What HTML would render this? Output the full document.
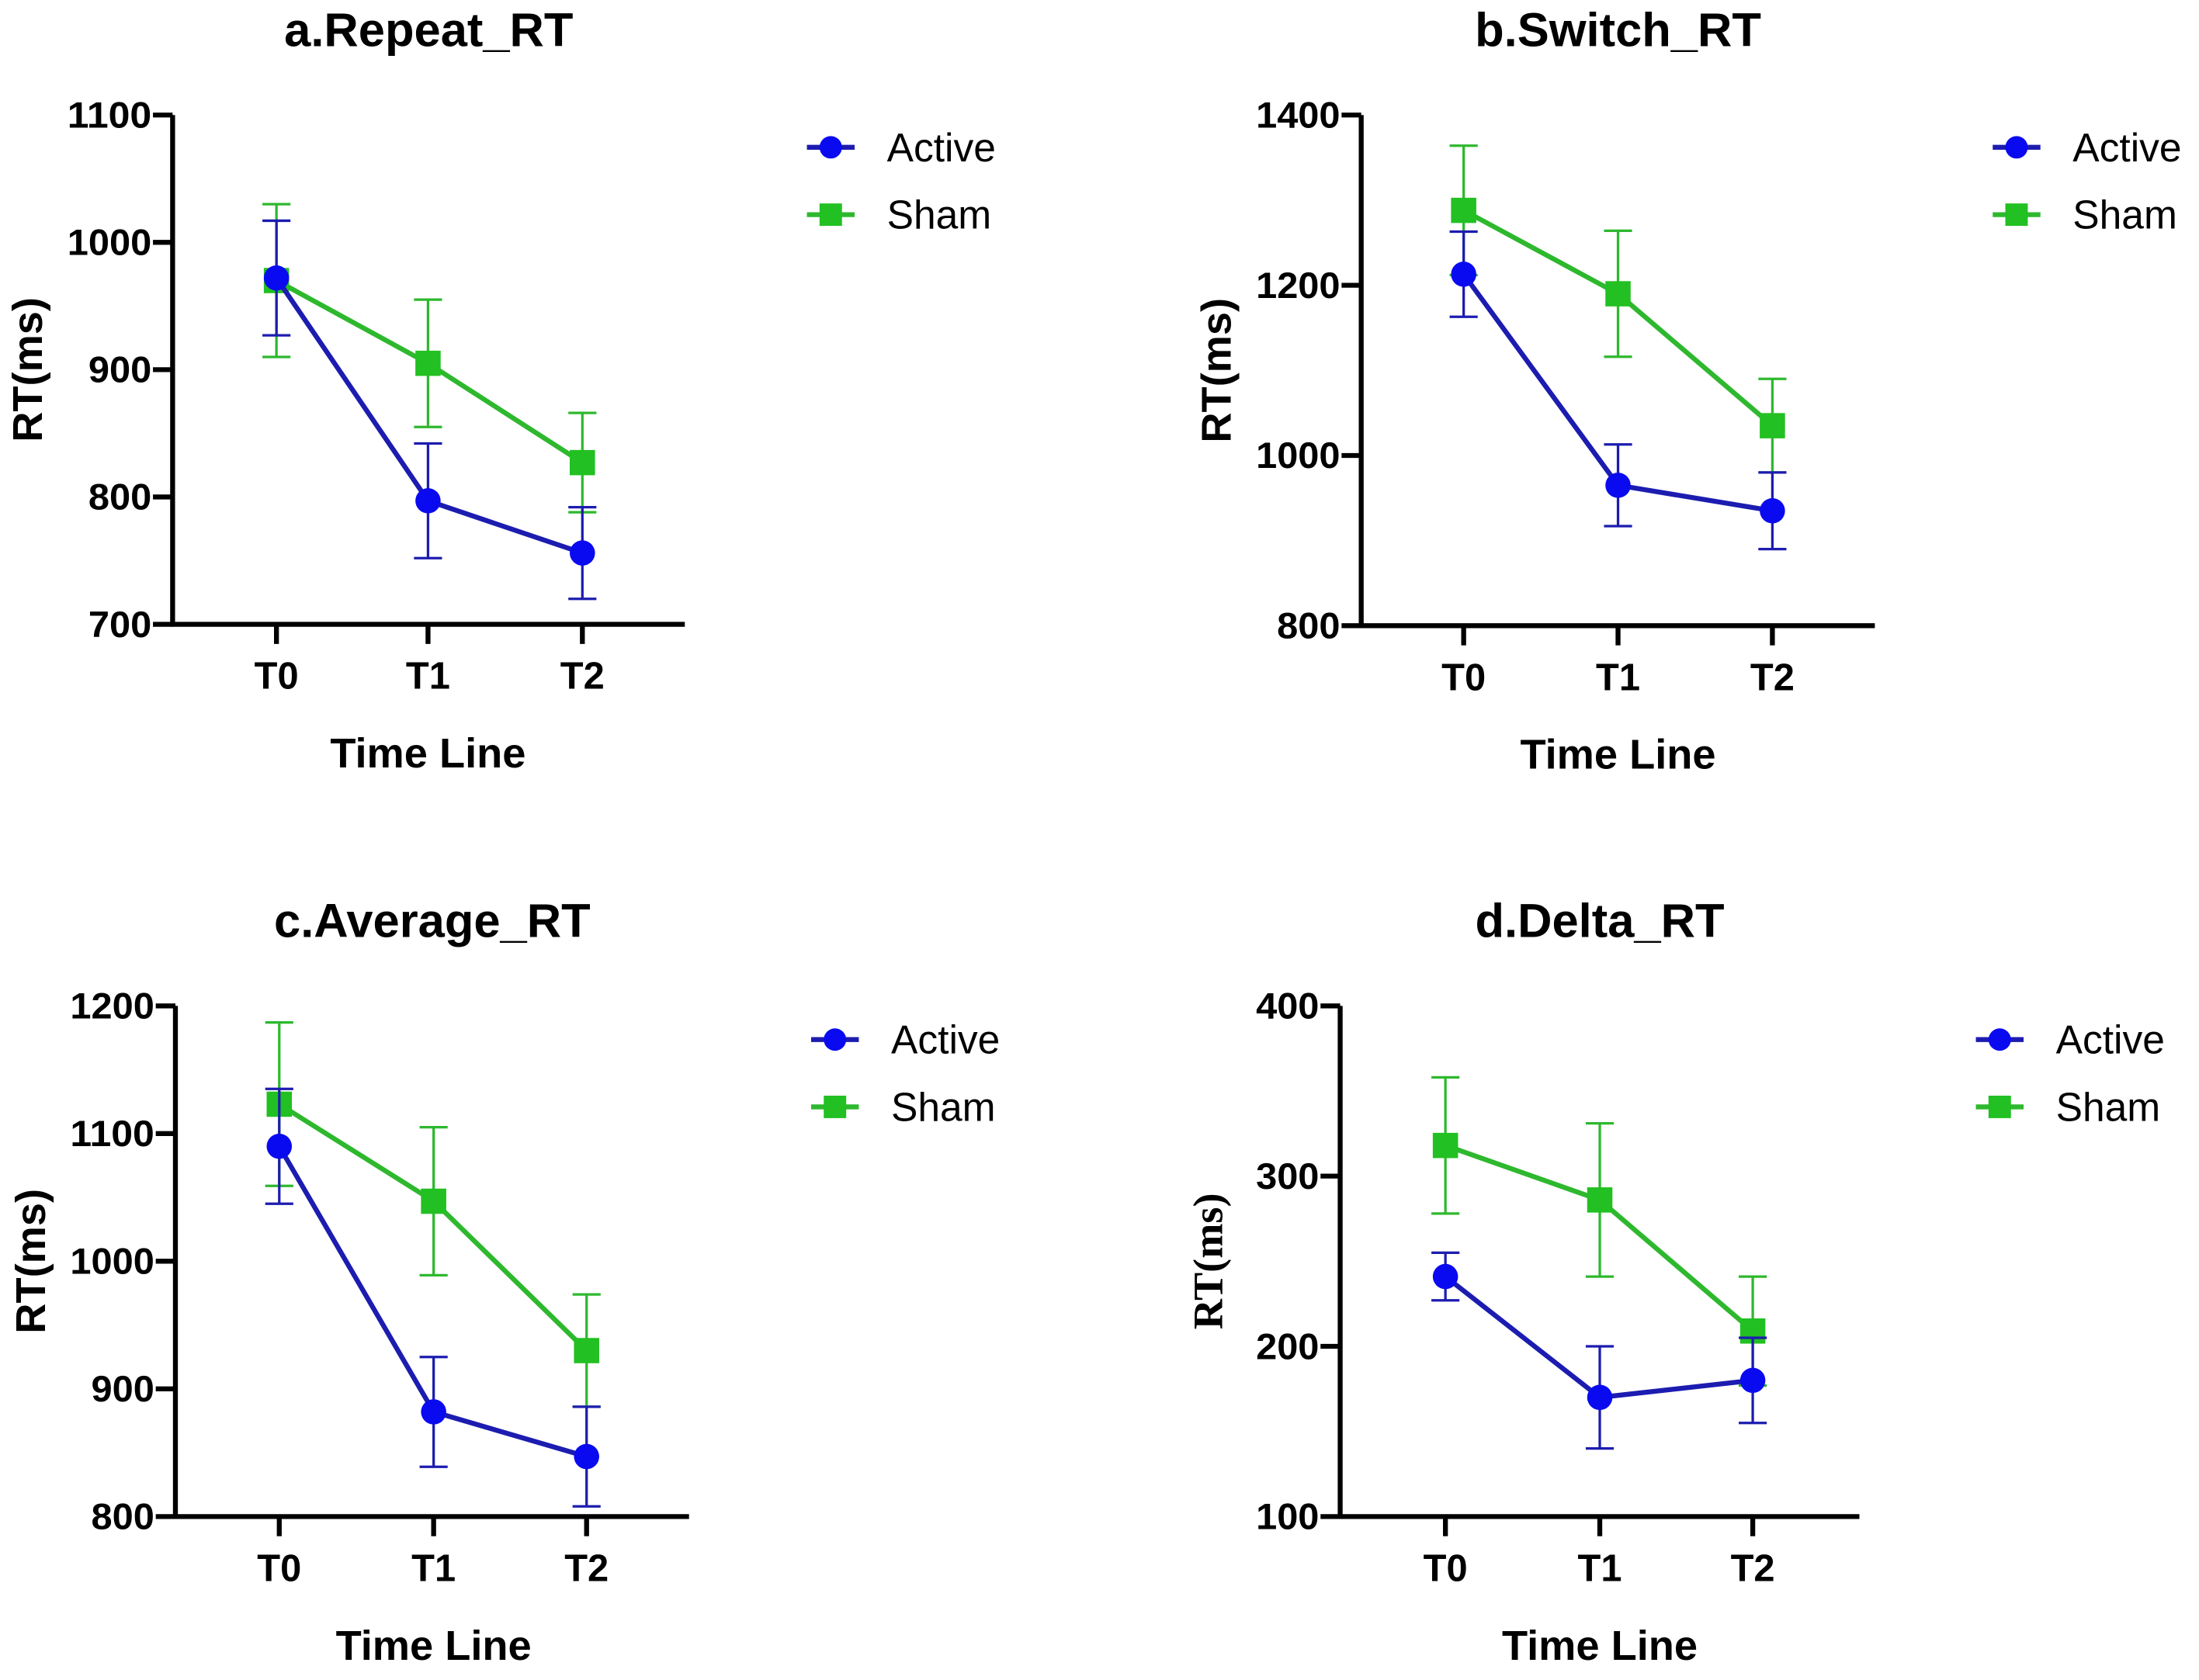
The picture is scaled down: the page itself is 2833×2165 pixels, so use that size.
<!DOCTYPE html>
<html><head><meta charset="utf-8"><style>
html,body{margin:0;padding:0;background:#fff;}
svg{display:block;}
text{font-family:"Liberation Sans",Arial,sans-serif;}
</style></head><body>
<svg id="fig" width="2833" height="2165" viewBox="0 0 1567 1197.5"></svg>
<script>
const categories = ["T0","T1","T2"];
const titles = ["a.Repeat_RT","b.Switch_RT","c.Average_RT","d.Delta_RT"];
const yTicksA = [700,800,900,1000,1100];
const yTicksB = [800,1000,1200,1400];
const yTicksC = [800,900,1000,1100,1200];
const yTicksD = [100,200,300,400];
const activeA = [972,797,756]; const activeErrA = [45,45,36];
const shamA = [970,905,827];   const shamErrA = [60,50,39];
const activeB = [1213,965,935]; const activeErrB = [50,48,45];
const shamB = [1288,1190,1035]; const shamErrB = [76,74,55];
const activeC = [1090,882,847]; const activeErrC = [45,43,39];
const shamC = [1123,1047,930];  const shamErrC = [64,58,44];
const activeD = [241,170,180]; const activeErrD = [14,30,25];
const shamD = [318,286,209];   const shamErrD = [40,45,32];

const panels = [
 {ax:123, top:82, bot:445, xend:488, xs:[197,305,415], ticks:yTicksA, act:activeA, actE:activeErrA, sh:shamA, shE:shamErrA, legX:575, legY:105, serif:false},
 {ax:970, top:82, bot:446, xend:1336, xs:[1043,1153,1263], ticks:yTicksB, act:activeB, actE:activeErrB, sh:shamB, shE:shamErrB, legX:1420, legY:105, serif:false},
 {ax:125, top:717, bot:1081, xend:491, xs:[199,309,418], ticks:yTicksC, act:activeC, actE:activeErrC, sh:shamC, shE:shamErrC, legX:578, legY:741, serif:false},
 {ax:955, top:717, bot:1081, xend:1325, xs:[1030,1140,1249], ticks:yTicksD, act:activeD, actE:activeErrD, sh:shamD, shE:shamErrD, legX:1408, legY:741, serif:true}
];
const NS="http://www.w3.org/2000/svg";
const svg=document.getElementById('fig');
function el(tag,attrs,parent,txt){const e=document.createElementNS(NS,tag);for(const k in attrs)e.setAttribute(k,attrs[k]);if(txt!==undefined)e.textContent=txt;(parent||svg).appendChild(e);return e;}
const BLUE="#1c1cb0", BLUEM="#0a0af0", GREEN="#2eb82e", GREENM="#22c022";
panels.forEach((p,i)=>{
  const g=el('g',{});
  
  
  const lo=p.ticks[0], hi=p.ticks[p.ticks.length-1];
  const y=v=>p.bot-(v-lo)/(hi-lo)*(p.bot-p.top);
  const x=j=>p.xs[j];
  const cx=(p.ax+p.xend)/2;
  const t=el('text',{x:cx,y:33,'font-size':34,'font-weight':'bold','text-anchor':'middle'},g,titles[i]);
  t.setAttribute('y', i<2?33:668);
  
  
  const ya=el('line',{x1:p.ax,y1:p.top,x2:p.ax,y2:p.bot+1.5,stroke:'#000','stroke-width':3.5},g);
  
  
  const xa=el('line',{x1:p.ax-1.5,y1:p.bot,x2:p.xend,y2:p.bot,stroke:'#000','stroke-width':3.5},g);
  
  
  p.ticks.forEach(v=>{
    el('line',{x1:p.ax-14,y1:y(v),x2:p.ax,y2:y(v),stroke:'#000','stroke-width':3.5},g);
    const tl=el('text',{x:p.ax-15,y:y(v)+9,'font-size':26,'font-weight':'bold','text-anchor':'end',textLength:(String(v).length*15),lengthAdjust:'spacingAndGlyphs'},g,String(v));
    
    
  });
  categories.forEach((c,j)=>{
    el('line',{x1:x(j),y1:p.bot,x2:x(j),y2:p.bot+14,stroke:'#000','stroke-width':3.5},g);
    const tl=el('text',{x:x(j),y:p.bot+46,'font-size':27,'font-weight':'bold','text-anchor':'middle'},g,c);
    
    
  });
  const xt=el('text',{x:x(1),y:p.bot+102,'font-size':30,'font-weight':'bold','text-anchor':'middle'},g,'Time Line');
  
  
  const ymid=(p.top+p.bot)/2;
  const ytx=p.ax-(i==3?84:93);
  const yt=el('text',{x:ytx,y:ymid,'font-size':p.serif?30:30,'font-weight':'bold','text-anchor':'middle',transform:`rotate(-90 ${ytx} ${ymid})`},g,'RT(ms)');
  if(p.serif) yt.setAttribute('style','font-family:"Liberation Serif",serif');
  
  
  function series(vals,errs,color,mcolor,square,name){
    const sg=el('g',{},g);
    
    
    vals.forEach((v,j)=>{
      const e=errs[j];
      el('line',{x1:x(j),y1:y(v-e),x2:x(j),y2:y(v+e),stroke:color,'stroke-width':1.8},sg);
      el('line',{x1:x(j)-10,y1:y(v+e),x2:x(j)+10,y2:y(v+e),stroke:color,'stroke-width':1.8},sg);
      el('line',{x1:x(j)-10,y1:y(v-e),x2:x(j)+10,y2:y(v-e),stroke:color,'stroke-width':1.8},sg);
    });
    el('polyline',{points:vals.map((v,j)=>x(j)+','+y(v)).join(' '),fill:'none',stroke:color,'stroke-width':3.5},sg);
    vals.forEach((v,j)=>{
      let m;
      if(square) m=el('rect',{x:x(j)-9,y:y(v)-9,width:18,height:18,fill:mcolor},sg);
      else m=el('circle',{cx:x(j),cy:y(v),r:9,fill:mcolor},sg);
      
      
    });
  }
  series(p.sh,p.shE,GREEN,GREENM,true,'sham');
  series(p.act,p.actE,BLUE,BLUEM,false,'active');
  const lg=el('g',{},g);
  
  
  [['Active',BLUE,BLUEM,false,0],['Sham',GREEN,GREENM,true,48]].forEach(([lab,c,mc,sq,dy])=>{
    const ly=p.legY+dy;
    el('line',{x1:p.legX,y1:ly,x2:p.legX+34,y2:ly,stroke:c,'stroke-width':3.5},lg);
    if(sq) el('rect',{x:p.legX+17-8,y:ly-8,width:16,height:16,fill:mc},lg);
    else el('circle',{cx:p.legX+17,cy:ly,r:8,fill:mc},lg);
    const lt=el('text',{x:p.legX+57,y:ly+10,'font-size':28.5},lg,lab);
    
    
  });
});
</script>
</body></html>
